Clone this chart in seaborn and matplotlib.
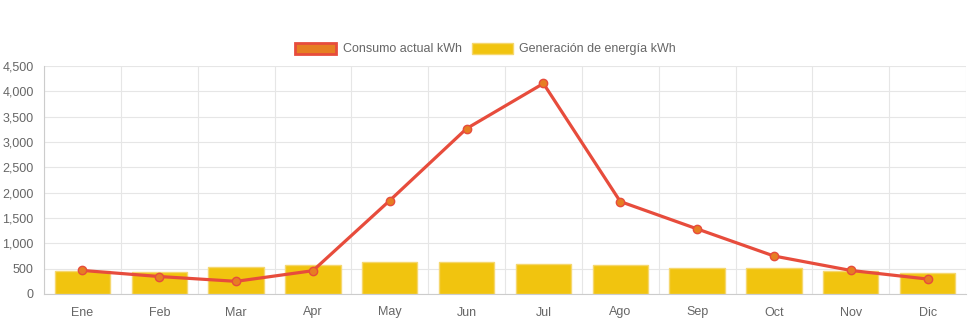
import numpy as np
import pandas as pd
import matplotlib
matplotlib.use("Agg")
import matplotlib.pyplot as plt
from matplotlib.patches import Patch
from matplotlib.ticker import FuncFormatter, MultipleLocator, FixedLocator
import seaborn as sns

meses = ["Ene", "Feb", "Mar", "Apr", "May", "Jun", "Jul", "Ago", "Sep", "Oct", "Nov", "Dic"]
consumo = [465, 345, 250, 460, 1845, 3265, 4155, 1825, 1285, 750, 465, 295]
generacion = [455, 435, 540, 565, 625, 625, 590, 565, 515, 520, 450, 415]

sns.set_theme(style="white")
plt.rcParams["font.family"] = ["Liberation Sans", "DejaVu Sans"]

TXT = "#666666"
GRID = "#e6e6e6"
AXIS = "#cccccc"

df = pd.DataFrame({"mes": meses, "consumo": consumo, "generacion": generacion,
                   "pos": np.arange(len(meses))})

fig = plt.figure(figsize=(9.71, 3.23), dpi=100)
ax = fig.add_axes([44 / 971, 29 / 323, 922 / 971, 228 / 323])

sns.barplot(data=df, x="mes", y="generacion", color="#f1c40f", saturation=1,
            width=0.72, edgecolor="#f5d76e", linewidth=1, ax=ax, zorder=2)
sns.lineplot(data=df, x="pos", y="consumo", color="#e74c3c", linewidth=2.3,
             marker="o", markersize=6, markerfacecolor="#e67e22",
             markeredgecolor="#e74c3c", markeredgewidth=1, ax=ax, zorder=3)

ax.set_xlim(-0.5, len(meses) - 0.5)
ax.set_ylim(0, 4500)
ax.yaxis.set_major_locator(MultipleLocator(500))
ax.yaxis.set_major_formatter(FuncFormatter(lambda v, p: f"{int(v):,}"))

# category labels centred, gridlines on the category boundaries
ax.set_xticks(np.arange(len(meses)))
ax.set_xticklabels(meses)
ax.xaxis.set_minor_locator(FixedLocator(np.arange(-0.5, len(meses), 1.0)))
ax.tick_params(axis="x", which="major", length=0, pad=9, labelsize=9, labelcolor=TXT)
ax.tick_params(axis="x", which="minor", length=6, width=0.8, color=GRID)
ax.tick_params(axis="y", which="major", length=6, width=0.8, color=GRID, pad=1.5,
               labelsize=9, labelcolor=TXT)
ax.grid(True, which="minor", axis="x", color=GRID, linewidth=0.8, zorder=0)
ax.grid(True, which="major", axis="y", color=GRID, linewidth=0.8, zorder=0)
ax.set_axisbelow(True)

ax.set_xlabel("")
ax.set_ylabel("")
for side in ["top", "right"]:
    ax.spines[side].set_visible(False)
ax.spines["left"].set_color(AXIS)
ax.spines["bottom"].set_color(AXIS)
ax.spines["left"].set_linewidth(0.8)
ax.spines["bottom"].set_linewidth(0.8)

handles = [
    Patch(facecolor="#e67e22", edgecolor="#e74c3c", linewidth=2, label="Consumo actual kWh"),
    Patch(facecolor="#f1c40f", edgecolor="#f5d76e", linewidth=1, label="Generación de energía kWh"),
]
fig.legend(handles=handles, loc="center", bbox_to_anchor=(0.5, 1 - 49 / 323), ncol=2,
           frameon=False, fontsize=9, labelcolor=TXT, handlelength=3.3, handleheight=1.0,
           handletextpad=0.5, columnspacing=0.8)

fig.savefig("out.png", dpi=100, facecolor="white")
